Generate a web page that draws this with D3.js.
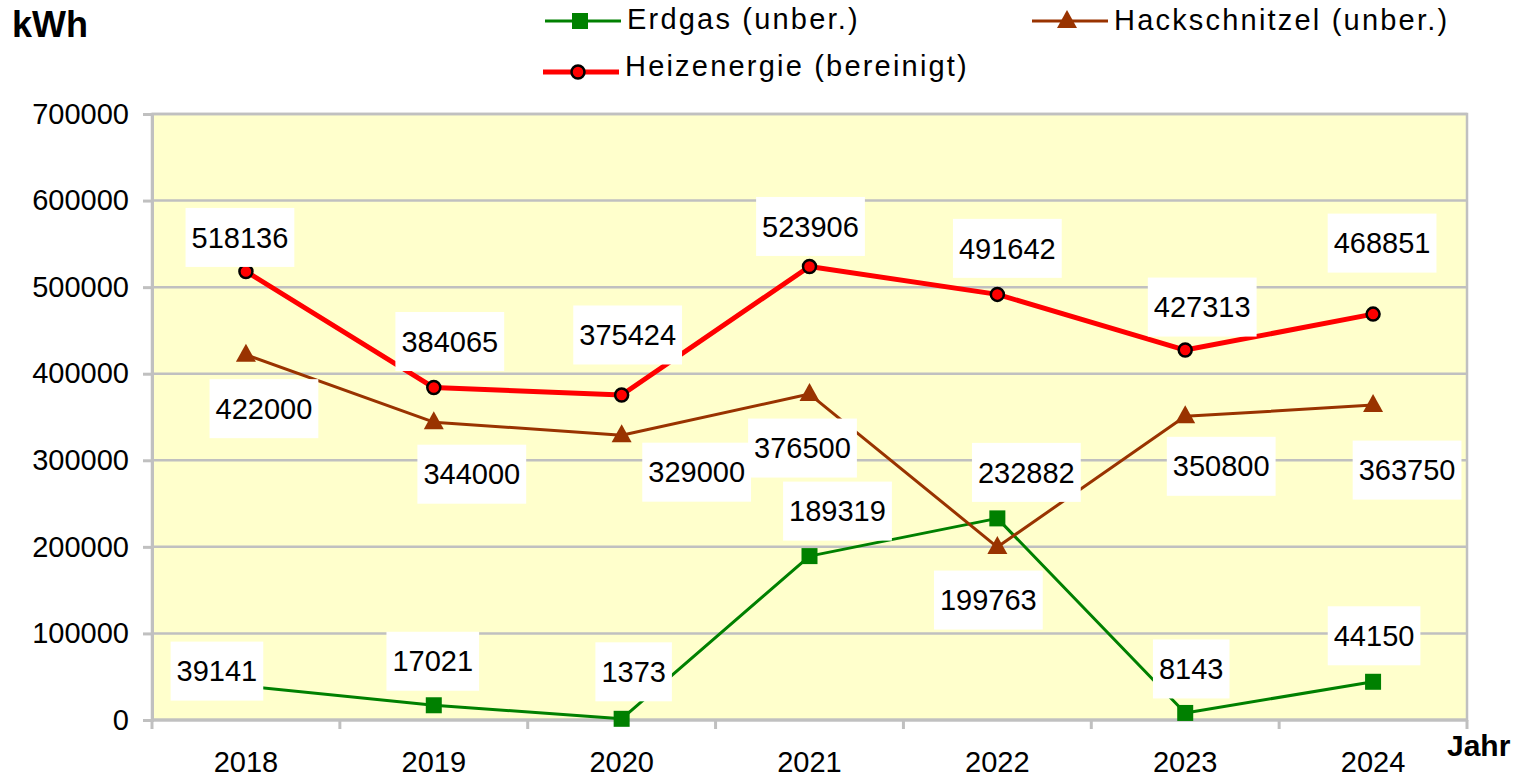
<!DOCTYPE html>
<html>
<head>
<meta charset="utf-8">
<script src="https://cdn.jsdelivr.net/npm/d3@7"></script>
<style>
  body { margin: 0; background: #fff; }
  text { font-family: "Liberation Sans", Arial, sans-serif; }
</style>
</head>
<body>
<svg id="chart" width="1515" height="779"></svg>
<script>
// data
const years = ["2018", "2019", "2020", "2021", "2022", "2023", "2024"];
const erdgas = [39141, 17021, 1373, 189319, 232882, 8143, 44150];
const hackschnitzel = [422000, 344000, 329000, 376500, 199763, 350800, 363750];
const heizenergie = [518136, 384065, 375424, 523906, 491642, 427313, 468851];
const yTicks = [0, 100000, 200000, 300000, 400000, 500000, 600000, 700000];

// label placement (pixel offsets of label centre from its point), like dragged Excel labels
const labelShift = {
  erdgas: [[-29, -15], [-1, -44], [12, -47], [28, -45], [29, -46], [6, -44], [1, -46]],
  hack: [[18, 54], [38, 52], [75, 37], [-7, 54], [-9, 53], [36, 50], [34, 65]],
  heiz: [[-6, -34], [16, -46], [6, -60], [1, -40], [10, -46], [17, -43], [9, -71]]
};

const series = [
  { key: "erdgas", name: "Erdgas (unber.)", values: erdgas, color: "#008000", width: 3, marker: "square" },
  { key: "hack", name: "Hackschnitzel (unber.)", values: hackschnitzel, color: "#993300", width: 3, marker: "triangle" },
  { key: "heiz", name: "Heizenergie (bereinigt)", values: heizenergie, color: "#ff0000", width: 5, marker: "circle" }
];

const svg = d3.select("#chart");
const plot = { left: 152, right: 1467, top: 114, bottom: 720 };

const x = d3.scaleBand().domain(years).range([plot.left, plot.right]).padding(0);
const y = d3.scaleLinear().domain([0, 700000]).range([plot.bottom, plot.top]);
const cx = d => x(d) + x.bandwidth() / 2;

// plot background
svg.append("rect")
  .attr("x", plot.left).attr("y", plot.top)
  .attr("width", plot.right - plot.left).attr("height", plot.bottom - plot.top)
  .attr("fill", "#ffffcc");

// gridlines
svg.append("g")
  .selectAll("line")
  .data(yTicks)
  .enter()
  .append("line")
  .attr("x1", plot.left).attr("x2", plot.right)
  .attr("y1", d => y(d)).attr("y2", d => y(d))
  .attr("stroke", "#c0c0c0")
  .attr("stroke-width", 2.5);

// frame
svg.append("rect")
  .attr("x", plot.left).attr("y", plot.top)
  .attr("width", plot.right - plot.left).attr("height", plot.bottom - plot.top)
  .attr("fill", "none")
  .attr("stroke", "#c0c0c0")
  .attr("stroke-width", 2.5);

// y axis
const yAxis = svg.append("g")
  .attr("transform", `translate(${plot.left},0)`)
  .call(d3.axisLeft(y).tickValues(yTicks).tickSize(9).tickPadding(14).tickFormat(d3.format("d")));
yAxis.select(".domain").attr("stroke", "#c0c0c0").attr("stroke-width", 3);
yAxis.selectAll(".tick line").attr("stroke", "#c0c0c0").attr("stroke-width", 3);
yAxis.selectAll(".tick text")
  .attr("font-size", 29)
  .attr("fill", "#000")
  .style("font-family", "'Liberation Sans', Arial, sans-serif");

// x axis: ticks at category boundaries
const xAxis = svg.append("g")
  .attr("transform", `translate(0,${plot.bottom})`);
xAxis.append("line")
  .attr("x1", plot.left).attr("x2", plot.right)
  .attr("stroke", "#c0c0c0").attr("stroke-width", 3);
xAxis.selectAll("line.tk")
  .data(d3.range(years.length + 1))
  .enter()
  .append("line")
  .attr("class", "tk")
  .attr("x1", i => plot.left + i * x.bandwidth())
  .attr("x2", i => plot.left + i * x.bandwidth())
  .attr("y1", 0).attr("y2", 9)
  .attr("stroke", "#c0c0c0").attr("stroke-width", 3);
xAxis.selectAll("text")
  .data(years)
  .enter()
  .append("text")
  .attr("x", d => cx(d))
  .attr("y", 52)
  .attr("text-anchor", "middle")
  .attr("font-size", 29)
  .text(d => d);

// axis titles
svg.append("text").attr("x", 12).attr("y", 37)
  .attr("font-size", 36).attr("font-weight", "bold").text("kWh");
svg.append("text").attr("x", 1447).attr("y", 756)
  .attr("font-size", 30).attr("font-weight", "bold").text("Jahr");

// markers
function drawMarker(g, type, color) {
  if (type === "square") {
    g.append("rect").attr("x", -8).attr("y", -8).attr("width", 16).attr("height", 16)
      .attr("fill", color);
  } else if (type === "triangle") {
    g.append("path").attr("d", "M0,-11 L10,7 L-10,7 Z").attr("fill", color);
  } else {
    g.append("circle").attr("r", 6.5).attr("fill", color)
      .attr("stroke", "#000").attr("stroke-width", 2.5);
  }
}

const line = d3.line()
  .x((d, i) => cx(years[i]))
  .y(d => y(d));

// lines
series.forEach(s => {
  svg.append("path")
    .attr("d", line(s.values))
    .attr("fill", "none")
    .attr("stroke", s.color)
    .attr("stroke-width", s.width)
    .attr("stroke-linejoin", "round");
});

// points
series.forEach(s => {
  svg.append("g")
    .selectAll("g")
    .data(s.values)
    .enter()
    .append("g")
    .attr("transform", (d, i) => `translate(${cx(years[i])},${y(d)})`)
    .each(function() { drawMarker(d3.select(this), s.marker, s.color); });
});

// data labels with white boxes
series.forEach(s => {
  const lbl = svg.append("g")
    .selectAll("g")
    .data(s.values)
    .enter()
    .append("g")
    .attr("transform", (d, i) => {
      const [dx, dy] = labelShift[s.key][i];
      return `translate(${cx(years[i]) + dx},${y(d) + dy})`;
    });
  lbl.append("rect").attr("fill", "#fff");
  lbl.append("text")
    .attr("text-anchor", "middle")
    .attr("dy", "0.35em")
    .attr("font-size", 29)
    .text(d => d)
    .each(function() {
      const w = this.getComputedTextLength();
      d3.select(this.previousSibling)
        .attr("x", -w / 2 - 6).attr("width", w + 12)
        .attr("y", -29.5).attr("height", 59);
    });
});

// legend
const legendItems = [
  { s: series[0], x: 545, y: 21, ty: 29 },
  { s: series[1], x: 1032, y: 21, ty: 30 },
  { s: series[2], x: 543, y: 72, ty: 76 }
];
legendItems.forEach(({ s, x: lx, y: ly, ty }) => {
  const g = svg.append("g").attr("transform", `translate(${lx},0)`);
  g.append("line").attr("x1", 0).attr("x2", 76)
    .attr("y1", ly).attr("y2", ly)
    .attr("stroke", s.color).attr("stroke-width", s.width);
  const m = g.append("g").attr("transform", `translate(35,${ly})`);
  drawMarker(m, s.marker, s.color);
  g.append("text").attr("x", 82).attr("y", ty)
    .attr("font-size", 29)
    .attr("letter-spacing", 2.2)
    .text(s.name);
});
</script>
</body>
</html>
